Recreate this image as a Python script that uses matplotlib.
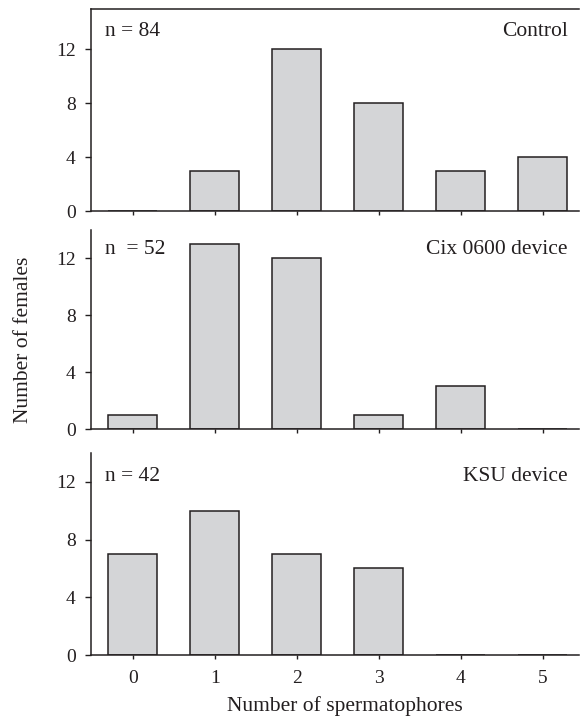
import matplotlib
matplotlib.use("Agg")
import matplotlib.pyplot as plt

plt.rcParams['font.family'] = ['Liberation Serif', 'DejaVu Serif']

categories = [0, 1, 2, 3, 4, 5]
control = [0, 3, 12, 8, 3, 4]
cix = [1, 13, 12, 1, 3, 0]
ksu = [7, 10, 7, 6, 0, 0]
yticks = [0, 4, 8, 12]
panel_labels = ["Control", "Cix 0600 device", "KSU device"]
n_labels = ["n = 84", "n  = 52", "n = 42"]

fig = plt.figure(figsize=(5.8, 7.19), dpi=100)
W, H = 580, 719
left = 91 / W
width = 1.0 - left - 0.001
panels = [(9, 211, 15, control, 0.89), (230, 429, 14, cix, 0.90), (453, 655, 14, ksu, 0.886)]

face = '#d4d5d7'
edge = '#231f20'
axes = []
for i, (top, bot, ymax, vals, ty) in enumerate(panels):
    ax = fig.add_axes([left, 1 - bot / H, width, (bot - top) / H])
    ax.bar(categories, vals, width=0.6, color=face, edgecolor=edge, linewidth=1.1)
    ax.set_xlim(-0.51, 5.45)
    ax.set_ylim(0, ymax)
    ax.set_yticks(yticks)
    ax.set_xticks(categories)
    ax.spines['right'].set_visible(False)
    if i != 0:
        ax.spines['top'].set_visible(False)
    for s in ax.spines.values():
        s.set_linewidth(1.1)
        s.set_color(edge)
    ax.tick_params(axis='both', direction='out', length=4, width=1, colors=edge,
                   labelsize=14, labelcolor=edge)
    ax.tick_params(axis='y', pad=7)
    ax.tick_params(axis='x', length=3, pad=8)
    if i != 2:
        ax.set_xticklabels([])
    ax.text(0.029, ty, n_labels[i], transform=ax.transAxes, fontsize=15.5,
            ha='left', va='center', color=edge)
    ax.text(0.976, ty, panel_labels[i], transform=ax.transAxes, fontsize=15.5,
            ha='right', va='center', color=edge)
    axes.append(ax)

fig.text(345 / W, 1 - 706 / H, "Number of spermatophores", fontsize=15.5,
         ha='center', va='center', color=edge)
fig.text(24 / W, 1 - 340 / H, "Number of females", rotation=90, fontsize=15.5,
         ha='center', va='center', color=edge)

fig.savefig("out.png", dpi=100)
